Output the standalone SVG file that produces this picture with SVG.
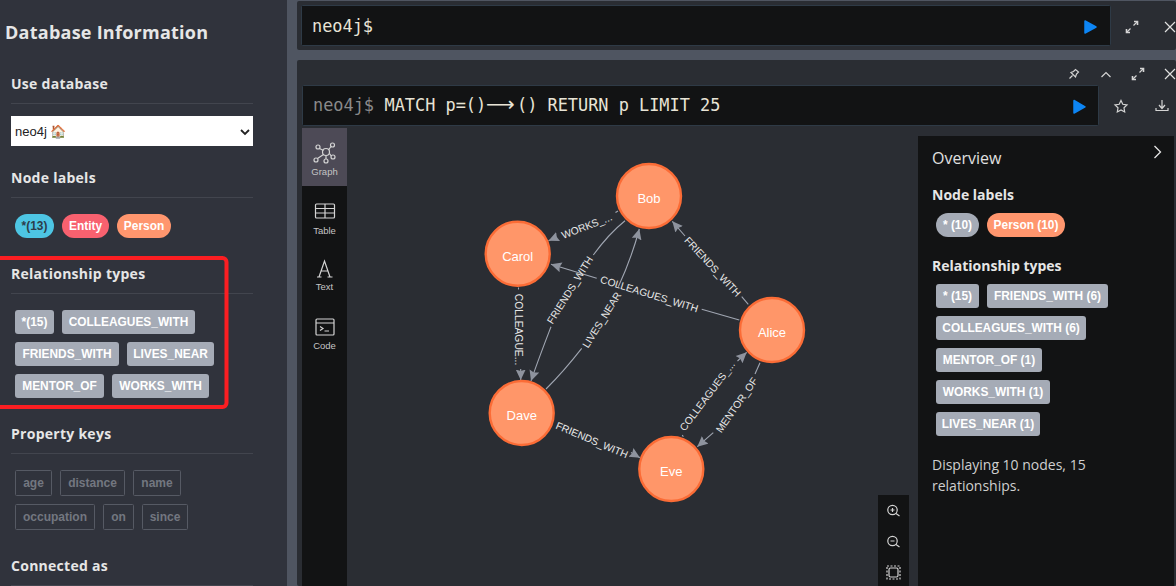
<svg xmlns="http://www.w3.org/2000/svg" width="1176" height="586" viewBox="0 0 1176 586">
<style>
text{font-family:"Liberation Sans",Arial,sans-serif}
.h{font-family:"Open Sans",sans-serif;font-weight:700;font-size:14px;letter-spacing:.27px;fill:#e6e6e6}
.div{stroke:#42454e;stroke-width:1}
.tag{fill:#a5abb6}
.t{font-weight:700;font-size:11.9px;fill:#fff;text-anchor:middle}
.k{fill:none;stroke:#565a64}
.kt{font-weight:700;font-size:12px;fill:#737780;text-anchor:middle}
.ed{fill:#121314;stroke:#2e3a46}
.mono{font-family:"DejaVu Sans Mono",monospace;font-size:16.9px}
.ico{fill:none;stroke:#d4d4d4;stroke-width:1.2}
.lab{font-size:9.5px;fill:#c4c4c4;text-anchor:middle}
.ln{fill:none;stroke:#a0a6b2;stroke-width:1.1}
.la{font-size:10.3px;fill:#e8e8e8;text-anchor:middle}
.n circle{fill:#ff9669;stroke:#fb6c36;stroke-width:2.4}
.n text{font-size:13px;fill:#fff;text-anchor:middle}
.play{fill:#0d85f4;stroke:#0d85f4;stroke-width:1.5;stroke-linejoin:round}
</style>
<defs>
<marker id="ah" markerUnits="userSpaceOnUse" markerWidth="12" markerHeight="12" refX="10.5" refY="5.5" orient="auto"><path d="M0 0.5L10.5 5.5L0 10.5L1.5 5.5Z" fill="#8e939e"/></marker>
<g id="exp" class="ico"><path d="M-5.5 5.5L-1.5 1.5M1.5-1.5L5.5-5.5"/><path d="M-5.5 2V5.5H-2M2-5.5H5.5V-2" stroke-width="1.6"/></g>
<path id="x" d="M-5-5L5 5M-5 5L5-5" fill="none" stroke="#e0e0e0" stroke-width="1.2"/>
</defs>
<rect width="1176" height="586" fill="#4f5561"/>
<g id="sidebar">
<rect width="287" height="586" fill="#30333c"/>
<text x="5" y="38.500" style="font-family:'Open Sans',sans-serif;font-weight:700;font-size:18px;letter-spacing:.25px;fill:#e6e6e6">Database Information</text>
<text class="h" x="11" y="89">Use database</text>
<line class="div" x1="11" y1="103.500" x2="253" y2="103.500"/>
<rect x="11" y="116" width="242" height="30" fill="#fff"/>
<text x="15" y="136" font-size="13" fill="#222">neo4j 🏠</text>
<path d="M241 130L245 134L249 130" fill="none" stroke="#222" stroke-width="1.800"/>
<text class="h" x="11" y="183">Node labels</text>
<line class="div" x1="11" y1="197.500" x2="253" y2="197.500"/>
<rect x="15" y="214" width="39" height="24" rx="12" fill="#4dc5e3"/>
<text class="t" x="34.500" y="230" style="fill:#2c3d4a">*(13)</text>
<rect x="62" y="214" width="47" height="24" rx="12" fill="#f8616f"/>
<text class="t" x="85.500" y="230">Entity</text>
<rect x="117" y="214" width="54" height="24" rx="12" fill="#ff966e"/>
<text class="t" x="144" y="230">Person</text>
<text class="h" x="11" y="279">Relationship types</text>
<line class="div" x1="11" y1="293.500" x2="253" y2="293.500"/>
<g>
<rect class="tag" x="15" y="310" width="39" height="24" rx="3"/><text class="t" x="34.500" y="326">*(15)</text>
<rect class="tag" x="62" y="310" width="133" height="24" rx="3"/><text class="t" x="128.500" y="326">COLLEAGUES_WITH</text>
<rect class="tag" x="15" y="342" width="104" height="24" rx="3"/><text class="t" x="67" y="358">FRIENDS_WITH</text>
<rect class="tag" x="127" y="342" width="87" height="24" rx="3"/><text class="t" x="170.500" y="358">LIVES_NEAR</text>
<rect class="tag" x="15" y="374" width="89" height="24" rx="3"/><text class="t" x="59.500" y="390">MENTOR_OF</text>
<rect class="tag" x="112" y="374" width="97" height="24" rx="3"/><text class="t" x="160.500" y="390">WORKS_WITH</text>
</g>
<rect id="highlight" x="-10" y="258" width="236.500" height="149" rx="4" fill="none" stroke="#fb1e22" stroke-width="4"/>
<text class="h" x="11" y="439">Property keys</text>
<line class="div" x1="11" y1="453.500" x2="253" y2="453.500"/>
<rect class="k" x="15.500" y="470.500" width="36" height="25" rx="1"/><text class="kt" x="33.500" y="487">age</text>
<rect class="k" x="60.500" y="470.500" width="64" height="25" rx="1"/><text class="kt" x="92.500" y="487">distance</text>
<rect class="k" x="133.500" y="470.500" width="47" height="25" rx="1"/><text class="kt" x="157" y="487">name</text>
<rect class="k" x="15.500" y="504.500" width="79" height="25" rx="1"/><text class="kt" x="55" y="521">occupation</text>
<rect class="k" x="103.500" y="504.500" width="30" height="25" rx="1"/><text class="kt" x="118.500" y="521">on</text>
<rect class="k" x="142.500" y="504.500" width="45" height="25" rx="1"/><text class="kt" x="165" y="521">since</text>
<text class="h" x="11" y="571">Connected as</text>
<line class="div" x1="11" y1="585.500" x2="253" y2="585.500"/>
</g>
<g id="frame-top">
<rect x="297" y="1" width="879" height="49" rx="2" fill="#2a2d33"/>
<rect class="ed" x="301.500" y="5.500" width="809" height="40" rx="1"/>
<text class="mono" x="312" y="32" fill="#e8e4d6">neo4j$</text>
<path class="play" d="M1085 21V33L1096 27Z"/>
<use href="#exp" x="1132" y="27"/>
<use href="#x" x="1170" y="27"/>
</g>
<g id="frame-result">
<rect x="297" y="60" width="879" height="526" rx="2" fill="#2a2d33"/>
<g transform="translate(1074 74)" class="ico" stroke-width="1"><path d="M-4.500 4.500L-1.500 1.500M-3-1.500L1.500 3L2.500 0L4.500-2L1.500-4.500L-.5-2.500Z"/></g>
<path d="M1101.500 77L1106 72.500L1110.500 77" class="ico" stroke-width="1.300"/>
<use href="#exp" x="1138" y="74"/>
<use href="#x" x="1170" y="74"/>
<rect class="ed" x="302.500" y="85.500" width="796" height="40" rx="1"/>
<text class="mono" y="111" fill="#e8e4d6"><tspan x="313" fill="#8a8a8a">neo4j$</tspan><tspan x="384.500">MATCH p=()</tspan><tspan x="486" style="font-family:'DejaVu Sans',sans-serif" font-size="20">⟶</tspan><tspan x="517">() RETURN p LIMIT 25</tspan></text>
<path class="play" d="M1074 100.500V113L1085 106.800Z"/>
<path class="ico" d="M1121 100.500L1122.800 104.300L1127 104.900L1124 107.800L1124.700 112L1121 110L1117.300 112L1118 107.800L1115 104.900L1119.200 104.300Z"/>
<path class="ico" d="M1162 100V108M1159 105L1162 108.500L1165 105M1156 108V110.500H1168V108"/>
</g>
<g id="view-tabs">
<rect x="302" y="128" width="45" height="458" fill="#121314"/>
<rect x="302" y="128" width="45" height="58" fill="#4d4a56"/>
<g class="ico"><circle cx="326" cy="152" r="3.500"/><circle cx="318" cy="147" r="2"/><circle cx="332.500" cy="145" r="2"/><circle cx="316" cy="160" r="2"/><circle cx="333" cy="157" r="2"/><circle cx="326" cy="161" r="2"/><path d="M319.500 148.500L323.500 150.500M328.500 150L331 146.500M323.500 154.500L317.500 158.500M329.500 153.500L331.200 156M326 155.500V159"/></g>
<text class="lab" x="324.500" y="175">Graph</text>
<g class="ico"><rect x="315.500" y="204" width="19" height="14" rx="1"/><path d="M315.500 208.500H334.500M315.500 213H334.500M325 204V218"/></g>
<text class="lab" x="324.500" y="233.500">Table</text>
<path class="ico" d="M319 277L324.500 261L330 277M321 271H328M317 277H321.500M327.500 277H332.500"/>
<text class="lab" x="324.500" y="290">Text</text>
<g class="ico"><rect x="316" y="319" width="18" height="16" rx="1"/><path d="M316 323H334M320 326.500L323 328.500L320 330.500M324.500 331H329"/></g>
<text class="lab" x="324.500" y="349">Code</text>
</g>
<g id="connectors">
<path class="ln" d="M618 211L615.500 212.500"/>
<path class="ln" marker-end="url(#ah)" d="M557 237L548.500 240.700"/>
<path class="ln" d="M625 220.700C611 232 602 243 593.300 255"/>
<path class="ln" marker-end="url(#ah)" d="M551 326.700C544 345 537 363 531 381"/>
<path class="ln" d="M546 389C559 376 571 362 581.700 348.300"/>
<path class="ln" marker-end="url(#ah)" d="M618.300 286.700C627 268 634 249 639.300 229"/>
<path class="ln" d="M748.300 304.300L741.700 296.700"/>
<path class="ln" marker-end="url(#ah)" d="M685 236L672.300 221.300"/>
<path class="ln" d="M739.300 320L701.700 309.300"/>
<path class="ln" marker-end="url(#ah)" d="M596.700 278.300L551 264.300"/>
<path class="ln" d="M518.500 287.500V289.500"/>
<path class="ln" marker-end="url(#ah)" d="M520.700 369V380"/>
<path class="ln" marker-end="url(#ah)" d="M631 452.500L640 457.700"/>
<path class="ln" d="M683.300 436.700L682.300 435"/>
<path class="ln" marker-end="url(#ah)" d="M737.500 361L746.700 352.300"/>
<path class="ln" d="M760 362.700L755 374"/>
<path class="ln" marker-end="url(#ah)" d="M713.300 432.700L697.300 446.700"/>
<g>
<text class="la" transform="translate(586.700 226) rotate(-21)" y="3.600">WORKS_...</text>
<text class="la" transform="translate(570 290) rotate(-58)" y="3.600">FRIENDS_WITH</text>
<text class="la" transform="translate(601.700 320) rotate(-58)" y="3.600">LIVES_NEAR</text>
<text class="la" transform="translate(712.700 266.700) rotate(47)" y="3.600">FRIENDS_WITH</text>
<text class="la" transform="translate(649.300 294) rotate(17)" y="3.600">COLLEAGUES_WITH</text>
<text class="la" transform="translate(519 329.500) rotate(90)" y="3.600">COLLEAGUE...</text>
<text class="la" transform="translate(592 440) rotate(23)" y="3.600">FRIENDS_WITH</text>
<text class="la" transform="translate(707.300 396) rotate(-53)" y="3.600">COLLEAGUES_...</text>
<text class="la" transform="translate(736.700 405) rotate(-55)" y="3.600">MENTOR_OF</text>
</g>
</g>
<g id="node-bob" class="n"><circle cx="649" cy="196" r="32"/><text x="649" y="202.800">Bob</text></g>
<g id="node-carol" class="n"><circle cx="517.700" cy="253.700" r="32"/><text x="517.700" y="261">Carol</text></g>
<g id="node-alice" class="n"><circle cx="772" cy="330" r="32"/><text x="772" y="337">Alice</text></g>
<g id="node-dave" class="n"><circle cx="521.700" cy="413" r="32"/><text x="521.700" y="420.200">Dave</text></g>
<g id="node-eve" class="n"><circle cx="671.300" cy="469" r="32"/><text x="671.300" y="476.200">Eve</text></g>
<g id="zoom-controls">
<rect x="878" y="495" width="31" height="91" fill="#121314"/>
<g class="ico" stroke-width="1.100"><circle cx="892.500" cy="510" r="4.700"/><path d="M896 513.500L899.500 516M890.500 510H894.500M892.500 508V512"/><circle cx="892.500" cy="541" r="4.700"/><path d="M896 544.500L899.500 547M890.500 541H894.500"/><rect x="889" y="568" width="9" height="9" rx="1.500"/><rect x="887" y="566" width="13" height="13" stroke-dasharray="2 1.500"/></g>
</g>
<g id="overview">
<rect x="918" y="136" width="256" height="450" fill="#121314"/>
<text x="932" y="164" style="font-family:'Open Sans',sans-serif;font-size:16px;fill:#e0e0e0">Overview</text>
<path d="M1154.500 146L1160.500 152L1154.500 158" fill="none" stroke="#e6e6e6" stroke-width="1.300"/>
<text class="h" x="932" y="200" style="letter-spacing:0">Node labels</text>
<rect class="tag" x="936" y="213" width="43" height="24" rx="12"/><text class="t" x="957.500" y="229">* (10)</text>
<rect x="987" y="213" width="78" height="24" rx="12" fill="#ff966e"/><text class="t" x="1026" y="229">Person (10)</text>
<text class="h" x="932" y="271" style="letter-spacing:0">Relationship types</text>
<rect class="tag" x="936" y="284" width="43" height="24" rx="3"/><text class="t" x="957.500" y="300">* (15)</text>
<rect class="tag" x="987" y="284" width="121" height="24" rx="3"/><text class="t" x="1047.500" y="300">FRIENDS_WITH (6)</text>
<rect class="tag" x="936" y="316" width="150" height="24" rx="3"/><text class="t" x="1011" y="332">COLLEAGUES_WITH (6)</text>
<rect class="tag" x="936" y="348" width="106" height="24" rx="3"/><text class="t" x="989" y="364">MENTOR_OF (1)</text>
<rect class="tag" x="936" y="380" width="114" height="24" rx="3"/><text class="t" x="993" y="396">WORKS_WITH (1)</text>
<rect class="tag" x="936" y="412" width="104" height="24" rx="3"/><text class="t" x="988" y="428">LIVES_NEAR (1)</text>
<text x="932" y="470" style="font-family:'Open Sans',sans-serif;font-size:14px;fill:#cfcfcf">Displaying 10 nodes, 15</text>
<text x="932" y="491" style="font-family:'Open Sans',sans-serif;font-size:14px;fill:#cfcfcf">relationships.</text>
</g>
</svg>
